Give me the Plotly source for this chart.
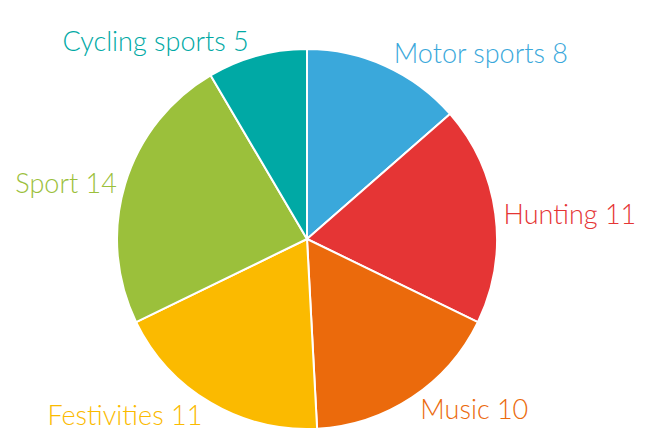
import plotly.graph_objects as go

labels = ["Motor sports", "Hunting", "Music", "Festivities", "Sport", "Cycling sports"]
values = [8, 11, 10, 11, 14, 5]
colors = ["#3AA8DB", "#E53535", "#EB6A0C", "#FBBA00", "#9BC03B", "#00A9A5"]

fig = go.Figure(go.Pie(
    labels=labels, values=values, sort=False, direction="clockwise", rotation=0,
    marker=dict(colors=colors, line=dict(color="white", width=2)),
    texttemplate="%{label} %{value}", textposition="outside",
    textfont=dict(color=colors, size=27, family="Lato", weight=300),
    showlegend=False, hoverinfo="label+value",
))
fig.update_layout(
    width=649, height=441, paper_bgcolor="white",
    margin=dict(l=109, r=160, t=41, b=20),
)
fig.write_html("out.html")
